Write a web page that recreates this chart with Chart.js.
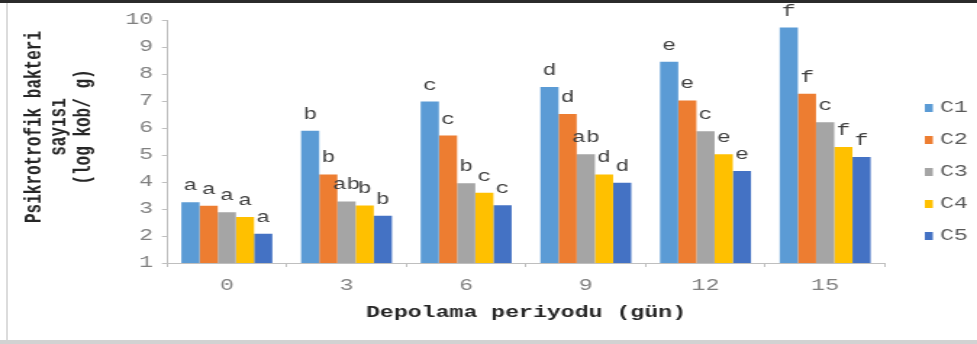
<html><head>
<meta charset="UTF-8">
<title>Psikrotrofik bakteri sayısı</title>
<script src="https://cdn.jsdelivr.net/npm/chart.js"></script>
<style>
    body {
        margin: 0;
        background: #ffffff;
    }

    .frame {
        position: relative;
        width: 977px;
        height: 344px;
        overflow: hidden;
        background: #ffffff;
    }

    /* the source picture is stretched sideways, so the canvas is too */
    .stretch {
        position: absolute;
        left: 0;
        top: 0;
        width: 674px;
        height: 344px;
        transform: scaleX(1.4496);
        transform-origin: 0 0;
    }

    .edge-top { position: absolute; left: 0; top: 0; width: 977px; height: 3px; background: #2b2b2b; }
    .edge-left { position: absolute; left: 6px; top: 3px; width: 2px; height: 338px; background: #dcdcdc; }
    .edge-bottom { position: absolute; left: 0; top: 340px; width: 977px; height: 4px; background: #d2d2d2; }
</style>
</head>
<body>
<div class="frame">
    <div class="stretch"><canvas id="chart" width="674" height="344"></canvas></div>
    <div class="edge-top"></div>
    <div class="edge-left"></div>
    <div class="edge-bottom"></div>
</div>

<script>
    const days = ['0', '3', '6', '9', '12', '15'];
    const seriesNames = ['C1', 'C2', 'C3', 'C4', 'C5'];
    const seriesColors = ['#5B9BD5', '#ED7D31', '#A5A5A5', '#FFC000', '#4472C4'];

    const c1 = [3.25, 5.90, 6.98, 7.52, 8.45, 9.72];
    const c2 = [3.12, 4.28, 5.72, 6.52, 7.02, 7.27];
    const c3 = [2.88, 3.28, 3.95, 5.03, 5.88, 6.21];
    const c4 = [2.70, 3.13, 3.60, 4.28, 5.03, 5.30];
    const c5 = [2.08, 2.75, 3.14, 3.97, 4.41, 4.93];

    // significance letters above each bar
    const l1 = ['a', 'b', 'c', 'd', 'e', 'f'];
    const l2 = ['a', 'b', 'c', 'd', 'e', 'f'];
    const l3 = ['a', 'ab', 'b', 'ab', 'c', 'c'];
    const l4 = ['a', 'b', 'c', 'd', 'e', 'f'];
    const l5 = ['a', 'b', 'c', 'd', 'e', 'f'];

    const yTicks = [1, 2, 3, 4, 5, 6, 7, 8, 9, 10];
    const yTitle = ['Psikrotrofik bakteri', 'sayısı', '(log kob/ g)'];
    const xTitle = 'Depolama periyodu (gün)';

    const values = [c1, c2, c3, c4, c5];
    const letters = [l1, l2, l3, l4, l5];
    const mono = "'Liberation Mono', 'DejaVu Sans Mono', monospace";

    const letterPlugin = {
        id: 'letters',
        afterDatasetsDraw(chart) {
            const ctx = chart.ctx;
            ctx.save();
            ctx.font = '16px ' + mono;
            ctx.fillStyle = '#3f3f3f';
            ctx.textAlign = 'center';
            ctx.textBaseline = 'alphabetic';
            chart.data.datasets.forEach((ds, i) => {
                chart.getDatasetMeta(i).data.forEach((bar, j) => {
                    ctx.fillText(ds.letters[j], bar.x, bar.y - 12);
                });
            });
            ctx.restore();
        }
    };

    const sideText = {
        id: 'sideText',
        afterDraw(chart) {
            const ctx = chart.ctx;
            const area = chart.chartArea;
            ctx.save();
            // y axis title, three lines
            ctx.font = 'bold 16px ' + mono;
            ctx.fillStyle = '#262626';
            ctx.textAlign = 'center';
            ctx.textBaseline = 'middle';
            ctx.translate(24, area.top + 107);
            ctx.rotate(-Math.PI / 2);
            yTitle.forEach((line, i) => ctx.fillText(line, 0, i * 17.2));
            ctx.restore();

            // legend on the right
            ctx.save();
            ctx.font = '16px ' + mono;
            ctx.textAlign = 'left';
            ctx.textBaseline = 'middle';
            chart.data.datasets.forEach((ds, i) => {
                const y = area.top + 88 + i * 32;
                ctx.fillStyle = ds.backgroundColor;
                ctx.fillRect(area.right + 27.5, y - 4, 5.5, 8);
                ctx.fillStyle = '#595959';
                ctx.fillText(ds.label, area.right + 38, y);
            });
            ctx.restore();
        }
    };

    new Chart(document.getElementById('chart'), {
        type: 'bar',
        data: {
            labels: days,
            datasets: seriesNames.map((name, i) => ({
                label: name,
                data: values[i],
                letters: letters[i],
                backgroundColor: seriesColors[i],
                borderWidth: 0,
                categoryPercentage: 0.76,
                barPercentage: 1
            }))
        },
        options: {
            responsive: false,
            animation: false,
            devicePixelRatio: 1,
            layout: {
                padding: { left: 0, right: 63.5, top: 20, bottom: 0 }
            },
            plugins: {
                legend: { display: false },
                tooltip: { enabled: false }
            },
            scales: {
                x: {
                    afterFit: s => { s.height = 81; },
                    grid: {
                        offset: true,
                        drawOnChartArea: false,
                        tickLength: 4,
                        color: '#bfbfbf'
                    },
                    border: { color: '#bfbfbf' },
                    ticks: {
                        color: '#808080',
                        font: { family: mono, size: 16 },
                        padding: 9
                    },
                    title: {
                        display: true,
                        text: xTitle,
                        color: '#262626',
                        font: { family: mono, size: 16, weight: 'bold' },
                        padding: { top: 0, bottom: 21 }
                    }
                },
                y: {
                    min: 1,
                    max: 10,
                    afterFit: s => { s.width = 115.2; },
                    afterBuildTicks: s => { s.ticks = yTicks.map(v => ({ value: v })); },
                    grid: {
                        drawOnChartArea: false,
                        tickLength: 3.5,
                        color: '#bfbfbf'
                    },
                    border: { color: '#bfbfbf' },
                    ticks: {
                        color: '#808080',
                        font: { family: mono, size: 16 },
                        padding: 6
                    }
                }
            }
        },
        plugins: [letterPlugin, sideText]
    });
</script>
</body>
</html>
